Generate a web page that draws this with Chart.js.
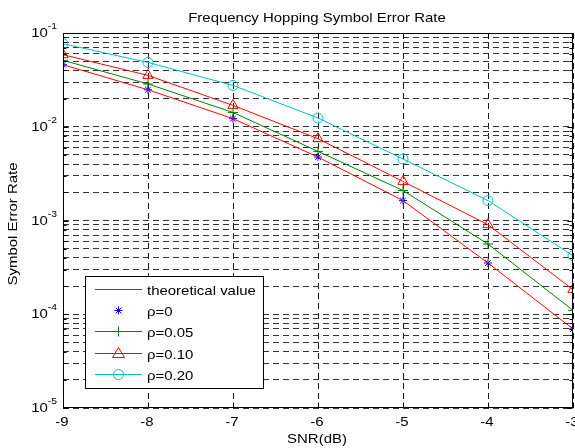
<!DOCTYPE html>
<html>
<head>
<meta charset="utf-8">
<script src="https://cdn.jsdelivr.net/npm/chart.js@4/dist/chart.umd.min.js"></script>
<style>
  html, body { margin: 0; padding: 0; background: #fff; }
  #wrap { width: 575px; height: 448px; }
</style>
</head>
<body>
<div id="wrap"><canvas id="serChart" width="575" height="448"></canvas></div>
<script>
// SNR (dB) on the x axis
const snr = [-9, -8, -7, -6, -5, -4, -3];
// symbol error rates
const theoretical = [0.0459, 0.0248, 0.0122, 0.00475, 0.00163, 0.000352, 0.0000697];
const rho0 = [0.0459, 0.0248, 0.0122, 0.00475, 0.00163, 0.000352, 0.0000697];
const rho005 = [0.0511, 0.0286, 0.0142, 0.00546, 0.00209, 0.000561, 0.000110];
const rho010 = [0.0587, 0.0353, 0.0169, 0.00746, 0.00261, 0.000902, 0.000183];
const rho020 = [0.0769, 0.0485, 0.0276, 0.0124, 0.00453, 0.00163, 0.000421];

// tick labels
const xTicks = [-9, -8, -7, -6, -5, -4, -3];
const yDecades = [-5, -4, -3, -2, -1];
const yMinor = [2, 3, 4, 5, 6, 7, 8, 9];

const FONT = '13px "Liberation Sans", Arial, sans-serif';
const SUP_FONT = '9px "Liberation Sans", Arial, sans-serif';
const STRETCH = 1.15;

function buildYTicks() {
    const ticks = [];
    yDecades.forEach((e, i) => {
        ticks.push(Math.pow(10, e));
        if (i < yDecades.length - 1) {
            yMinor.forEach(m => ticks.push(m * Math.pow(10, e)));
        }
    });
    return ticks;
}
const yTicks = buildYTicks();

function toPoints(values) {
    return values.map((v, i) => ({ x: snr[i], y: v }));
}

function stretchText(ctx, text, x, y, align, font) {
    ctx.save();
    ctx.font = font || FONT;
    ctx.translate(x, y);
    ctx.scale(STRETCH, 1);
    ctx.textAlign = align;
    ctx.textBaseline = 'alphabetic';
    ctx.fillText(text, 0, 0);
    ctx.restore();
}

function textWidth(ctx, text, font) {
    ctx.save();
    ctx.font = font;
    const w = ctx.measureText(text).width * STRETCH;
    ctx.restore();
    return w;
}

function drawMarker(ctx, style, color, x, y) {
    ctx.save();
    ctx.strokeStyle = color;
    ctx.lineWidth = 1;
    ctx.beginPath();
    if (style === 'star') {
        const r = 4, d = r * Math.SQRT1_2;
        ctx.moveTo(x - r, y); ctx.lineTo(x + r, y);
        ctx.moveTo(x, y - r); ctx.lineTo(x, y + r);
        ctx.moveTo(x - d, y - d); ctx.lineTo(x + d, y + d);
        ctx.moveTo(x - d, y + d); ctx.lineTo(x + d, y - d);
    } else if (style === 'cross') {
        ctx.moveTo(x - 5, y); ctx.lineTo(x + 5, y);
        ctx.moveTo(x, y - 5); ctx.lineTo(x, y + 5);
    } else if (style === 'triangle') {
        ctx.moveTo(x, y - 6); ctx.lineTo(x + 6, y + 4); ctx.lineTo(x - 6, y + 4); ctx.closePath();
    } else if (style === 'circle') {
        ctx.arc(x, y, 5, 0, Math.PI * 2);
    }
    ctx.stroke();
    ctx.restore();
}

const legendItems = [
    { label: 'theoretical value', color: '#ff0000', line: true, marker: null },
    { label: 'ρ=0', color: '#0000ff', line: false, marker: 'star' },
    { label: 'ρ=0.05', color: '#008000', line: true, marker: 'cross' },
    { label: 'ρ=0.10', color: '#ff0000', line: true, marker: 'triangle' },
    { label: 'ρ=0.20', color: '#00bfbf', line: true, marker: 'circle' }
];

const matlabFrame = {
    id: 'matlabFrame',
    afterDatasetsDraw(chart) {
        const ctx = chart.ctx;
        const area = chart.chartArea;
        const xs = chart.scales.x;
        const ys = chart.scales.y;
        const L = Math.round(area.left) + 0.5, R = Math.round(area.right) - 0.5;
        const T = Math.round(area.top) + 0.5, B = Math.round(area.bottom) - 0.5;

        ctx.save();
        ctx.strokeStyle = '#000';
        ctx.lineWidth = 1;

        // inner tick marks
        ctx.beginPath();
        yTicks.forEach(v => {
            const py = Math.round(ys.getPixelForValue(v)) + 0.5;
            const len = yDecades.some(e => Math.abs(Math.pow(10, e) - v) < 1e-12) ? 5 : 3;
            ctx.moveTo(L, py); ctx.lineTo(L + len, py);
            ctx.moveTo(R, py); ctx.lineTo(R - len, py);
        });
        xTicks.forEach(v => {
            const px = Math.round(xs.getPixelForValue(v)) + 0.5;
            ctx.moveTo(px, B); ctx.lineTo(px, B - 5);
            ctx.moveTo(px, T); ctx.lineTo(px, T + 5);
        });
        ctx.stroke();

        // axes box
        ctx.strokeRect(L, T, R - L, B - T);

        // legend
        const box = { x: 85.5, y: 276.5, w: 178, h: 112 };
        ctx.fillStyle = '#fff';
        ctx.fillRect(box.x, box.y, box.w, box.h);
        ctx.strokeStyle = '#000';
        ctx.strokeRect(box.x, box.y, box.w, box.h);
        legendItems.forEach((item, i) => {
            const cy = Math.round(289 + i * 21.2) + 0.5;
            if (item.line) {
                ctx.save();
                ctx.lineWidth = 1;
                ctx.strokeStyle = item.color;
                ctx.beginPath();
                ctx.moveTo(95, cy);
                ctx.lineTo(142, cy);
                ctx.stroke();
                ctx.restore();
            }
            if (item.marker) drawMarker(ctx, item.marker, item.color, 118.5, cy);
            ctx.fillStyle = '#000';
            stretchText(ctx, item.label, 147, cy + 5, 'left');
        });

        // texts
        ctx.fillStyle = '#000';
        stretchText(ctx, 'Frequency Hopping Symbol Error Rate', 317, 22, 'center');
        xTicks.forEach(v => {
            stretchText(ctx, String(v), xs.getPixelForValue(v) - 1, 426, 'center');
        });
        stretchText(ctx, 'SNR(dB)', 317, 443, 'center');

        yDecades.forEach(e => {
            const py = ys.getPixelForValue(Math.pow(10, e));
            const sup = String(e);
            const wSup = textWidth(ctx, sup, SUP_FONT);
            const wBase = textWidth(ctx, '10', FONT);
            const right = 57;
            stretchText(ctx, '10', right - wSup - wBase, py + 4, 'left');
            stretchText(ctx, sup, right - wSup, py - 4, 'left', SUP_FONT);
        });

        ctx.save();
        ctx.translate(17, 224);
        ctx.rotate(-Math.PI / 2);
        ctx.scale(STRETCH, 1);
        ctx.font = FONT;
        ctx.textAlign = 'center';
        ctx.textBaseline = 'alphabetic';
        ctx.fillText('Symbol Error Rate', 0, 0);
        ctx.restore();

        ctx.restore();
    }
};

const ctx = document.getElementById('serChart').getContext('2d');
new Chart(ctx, {
    type: 'line',
    data: {
        datasets: [
            {
                label: 'theoretical value',
                data: toPoints(theoretical),
                borderColor: '#ff0000',
                borderWidth: 1,
                pointRadius: 0,
                fill: false
            },
            {
                label: 'ρ=0',
                data: toPoints(rho0),
                showLine: false,
                borderColor: '#0000ff',
                pointStyle: 'star',
                pointRadius: 4,
                pointBorderWidth: 1,
                pointBorderColor: '#0000ff',
                pointBackgroundColor: 'transparent'
            },
            {
                label: 'ρ=0.05',
                data: toPoints(rho005),
                borderColor: '#008000',
                borderWidth: 1,
                pointStyle: 'cross',
                pointRadius: 5,
                pointBorderWidth: 1,
                pointBorderColor: '#008000',
                pointBackgroundColor: 'transparent'
            },
            {
                label: 'ρ=0.10',
                data: toPoints(rho010),
                borderColor: '#ff0000',
                borderWidth: 1,
                pointStyle: 'triangle',
                pointRadius: 6,
                pointBorderWidth: 1,
                pointBorderColor: '#ff0000',
                pointBackgroundColor: 'transparent'
            },
            {
                label: 'ρ=0.20',
                data: toPoints(rho020),
                borderColor: '#00bfbf',
                borderWidth: 1,
                pointStyle: 'circle',
                pointRadius: 5,
                pointBorderWidth: 1,
                pointBorderColor: '#00bfbf',
                pointBackgroundColor: 'transparent'
            }
        ]
    },
    options: {
        responsive: false,
        animation: false,
        devicePixelRatio: 1,
        layout: { autoPadding: false, padding: { left: 63, right: 2, top: 33, bottom: 40 } },
        plugins: {
            legend: { display: false },
            title: { display: false },
            tooltip: { enabled: false }
        },
        elements: { line: { tension: 0 } },
        scales: {
            x: {
                type: 'linear',
                min: -9,
                max: -3,
                ticks: { display: false, stepSize: 1 },
                grid: { color: '#1a1a1a', lineWidth: 1, drawTicks: false },
                border: { display: false, dash: [6, 4] }
            },
            y: {
                type: 'logarithmic',
                min: 1e-5,
                max: 1e-1,
                afterBuildTicks: scale => {
                    scale.ticks = yTicks.map(v => ({ value: v }));
                },
                ticks: { display: false },
                grid: { color: '#333', lineWidth: 1, drawTicks: false },
                border: { display: false, dash: [6, 4] }
            }
        }
    },
    plugins: [matlabFrame]
});
</script>
</body>
</html>
